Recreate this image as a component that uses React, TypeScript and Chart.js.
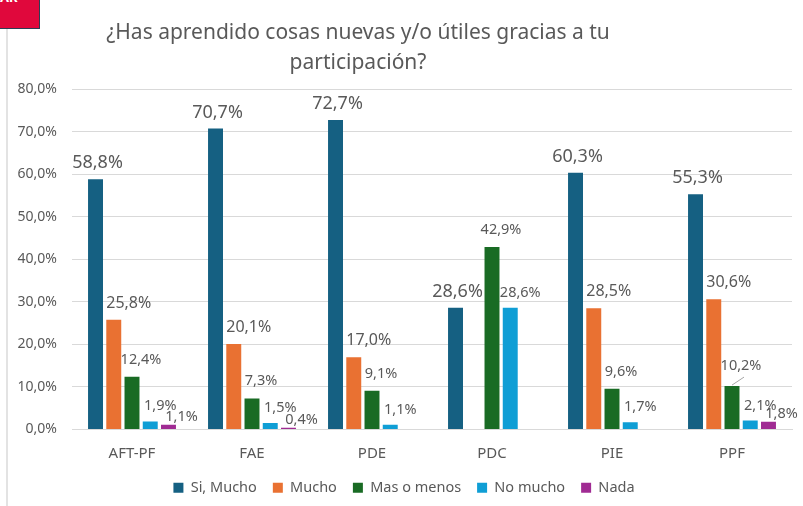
import React, { useEffect, useRef } from "react";
import { Chart, registerables } from "chart.js";

Chart.register(...registerables);

// ---- data ----
const categories = ["AFT-PF", "FAE", "PDE", "PDC", "PIE", "PPF"];
const seriesNames = ["Si, Mucho", "Mucho", "Mas o menos", "No mucho", "Nada"];
const siMucho = [58.8, 70.7, 72.7, 28.6, 60.3, 55.3];
const mucho = [25.8, 20.1, 17.0, null, 28.5, 30.6];
const masOMenos = [12.4, 7.3, 9.1, 42.9, 9.6, 10.2];
const noMucho = [1.9, 1.5, 1.1, 28.6, 1.7, 2.1];
const nada = [1.1, 0.4, null, null, null, 1.8];
const titleLines = ["¿Has aprendido cosas nuevas y/o útiles gracias a tu", "participación?"];
const yMin = 0;
const yMax = 80;
const yStep = 10;

// ---- styles ----
const FONT = "'Noto Sans', sans-serif";
const TEXT = "#595959";
const GRID = "#d9d9d9";
const colors = ["#156082", "#E97132", "#196B24", "#0F9ED5", "#A02B93"];
const labelFontSizes = [18, 16, 14.5, 14.5, 14.5];
const labelShiftX = [2, 15, 9, 10, 13];
const labelGap = [11, 12, 13, 11, 4];
const legendShiftX = 8;
// label with a leader line (dataset index, category index)
const leaderLabel = { dataset: 2, index: 5, extraGap: 3 };

const fmt = (v: number) => v.toFixed(1).replace(".", ",") + "%";

const dataLabelsPlugin = {
  id: "dataLabels",
  afterDatasetsDraw(chart: any) {
    const ctx = chart.ctx;
    ctx.save();
    ctx.fillStyle = TEXT;
    ctx.textAlign = "center";
    ctx.textBaseline = "alphabetic";
    chart.data.datasets.forEach((ds: any, di: number) => {
      const meta = chart.getDatasetMeta(di);
      ctx.font = `${labelFontSizes[di]}px ${FONT}`;
      meta.data.forEach((el: any, i: number) => {
        const v = ds.data[i];
        if (v === null || v === undefined) return;
        const isLeader = di === leaderLabel.dataset && i === leaderLabel.index;
        const gap = labelGap[di] + (isLeader ? leaderLabel.extraGap : 0);
        if (isLeader) {
          ctx.save();
          ctx.strokeStyle = "#a6a6a6";
          ctx.lineWidth = 1;
          ctx.beginPath();
          ctx.moveTo(el.x, el.y - 1);
          ctx.lineTo(el.x + 12, el.y - 9);
          ctx.stroke();
          ctx.restore();
        }
        ctx.fillText(fmt(v), el.x + labelShiftX[di], el.y - gap);
      });
    });
    ctx.restore();
  },
};

const titlePlugin = {
  id: "customTitle",
  afterLayout(chart: any) {
    if (chart.legend) {
      chart.legend.left += legendShiftX;
      chart.legend.right += legendShiftX;
    }
  },
  afterDraw(chart: any) {
    const ctx = chart.ctx;
    ctx.save();
    ctx.fillStyle = TEXT;
    ctx.font = `21px ${FONT}`;
    ctx.textAlign = "center";
    ctx.textBaseline = "alphabetic";
    titleLines.forEach((line, i) => ctx.fillText(line, 358, 39 + i * 30));
    ctx.restore();
  },
};

export default function App() {
  const ref = useRef<HTMLCanvasElement>(null);
  useEffect(() => {
    if (!ref.current) return;
    const seriesData = [siMucho, mucho, masOMenos, noMucho, nada];
    const chart = new Chart(ref.current, {
      type: "bar",
      data: {
        labels: categories,
        datasets: seriesNames.map((name, i) => ({
          label: name,
          data: seriesData[i] as any,
          backgroundColor: colors[i],
          borderWidth: 0,
          categoryPercentage: 0.76,
          barPercentage: 0.82,
        })),
      },
      options: {
        responsive: false,
        animation: false,
        layout: { padding: { left: 0, right: 11, top: 89, bottom: 1 } },
        plugins: {
          title: { display: false },
          tooltip: { enabled: false },
          legend: {
            position: "bottom",
            labels: {
              color: TEXT,
              font: { family: FONT, size: 14.5 },
              boxWidth: 10,
              boxHeight: 10,
              padding: 16,
            },
          },
        },
        scales: {
          x: {
            grid: { display: false, drawTicks: false },
            border: { display: true, color: GRID, width: 1 },
            ticks: { color: TEXT, font: { family: FONT, size: 15 }, padding: 15 },
            afterFit: (s: any) => { s.height = 35; },
          },
          y: {
            min: yMin,
            max: yMax,
            grid: { color: GRID, drawTicks: false },
            border: { display: false },
            ticks: {
              stepSize: yStep,
              color: TEXT,
              font: { family: FONT, size: 14 },
              padding: 15,
              callback: (v: any) => fmt(Number(v)),
            },
            afterFit: (s: any) => { s.width = 72; },
          },
        },
      },
      plugins: [dataLabelsPlugin, titlePlugin],
    });
    return () => chart.destroy();
  }, []);

  return (
    <div style={{ position: "fixed", left: 0, top: 0, width: 803, height: 506, background: "#fff", overflow: "hidden" }}>
      <canvas ref={ref} width={803} height={506} style={{ position: "absolute", left: 0, top: 0 }} />
      <div style={{ position: "absolute", left: 6, top: 29, width: 2, height: 477, background: "#e3e3e3" }} />
      <div
        style={{
          position: "absolute", left: 0, top: 0, width: 39, height: 28,
          background: "#E0083C", borderRight: "1px solid #2c3e55", borderBottom: "1px solid #2c3e55",
          color: "#fff", fontFamily: FONT, fontSize: 13, fontWeight: 700, lineHeight: "13px", overflow: "hidden",
        }}
      >
        <span style={{ position: "absolute", left: 0, top: -9 }}>AR</span>
      </div>
    </div>
  );
}
